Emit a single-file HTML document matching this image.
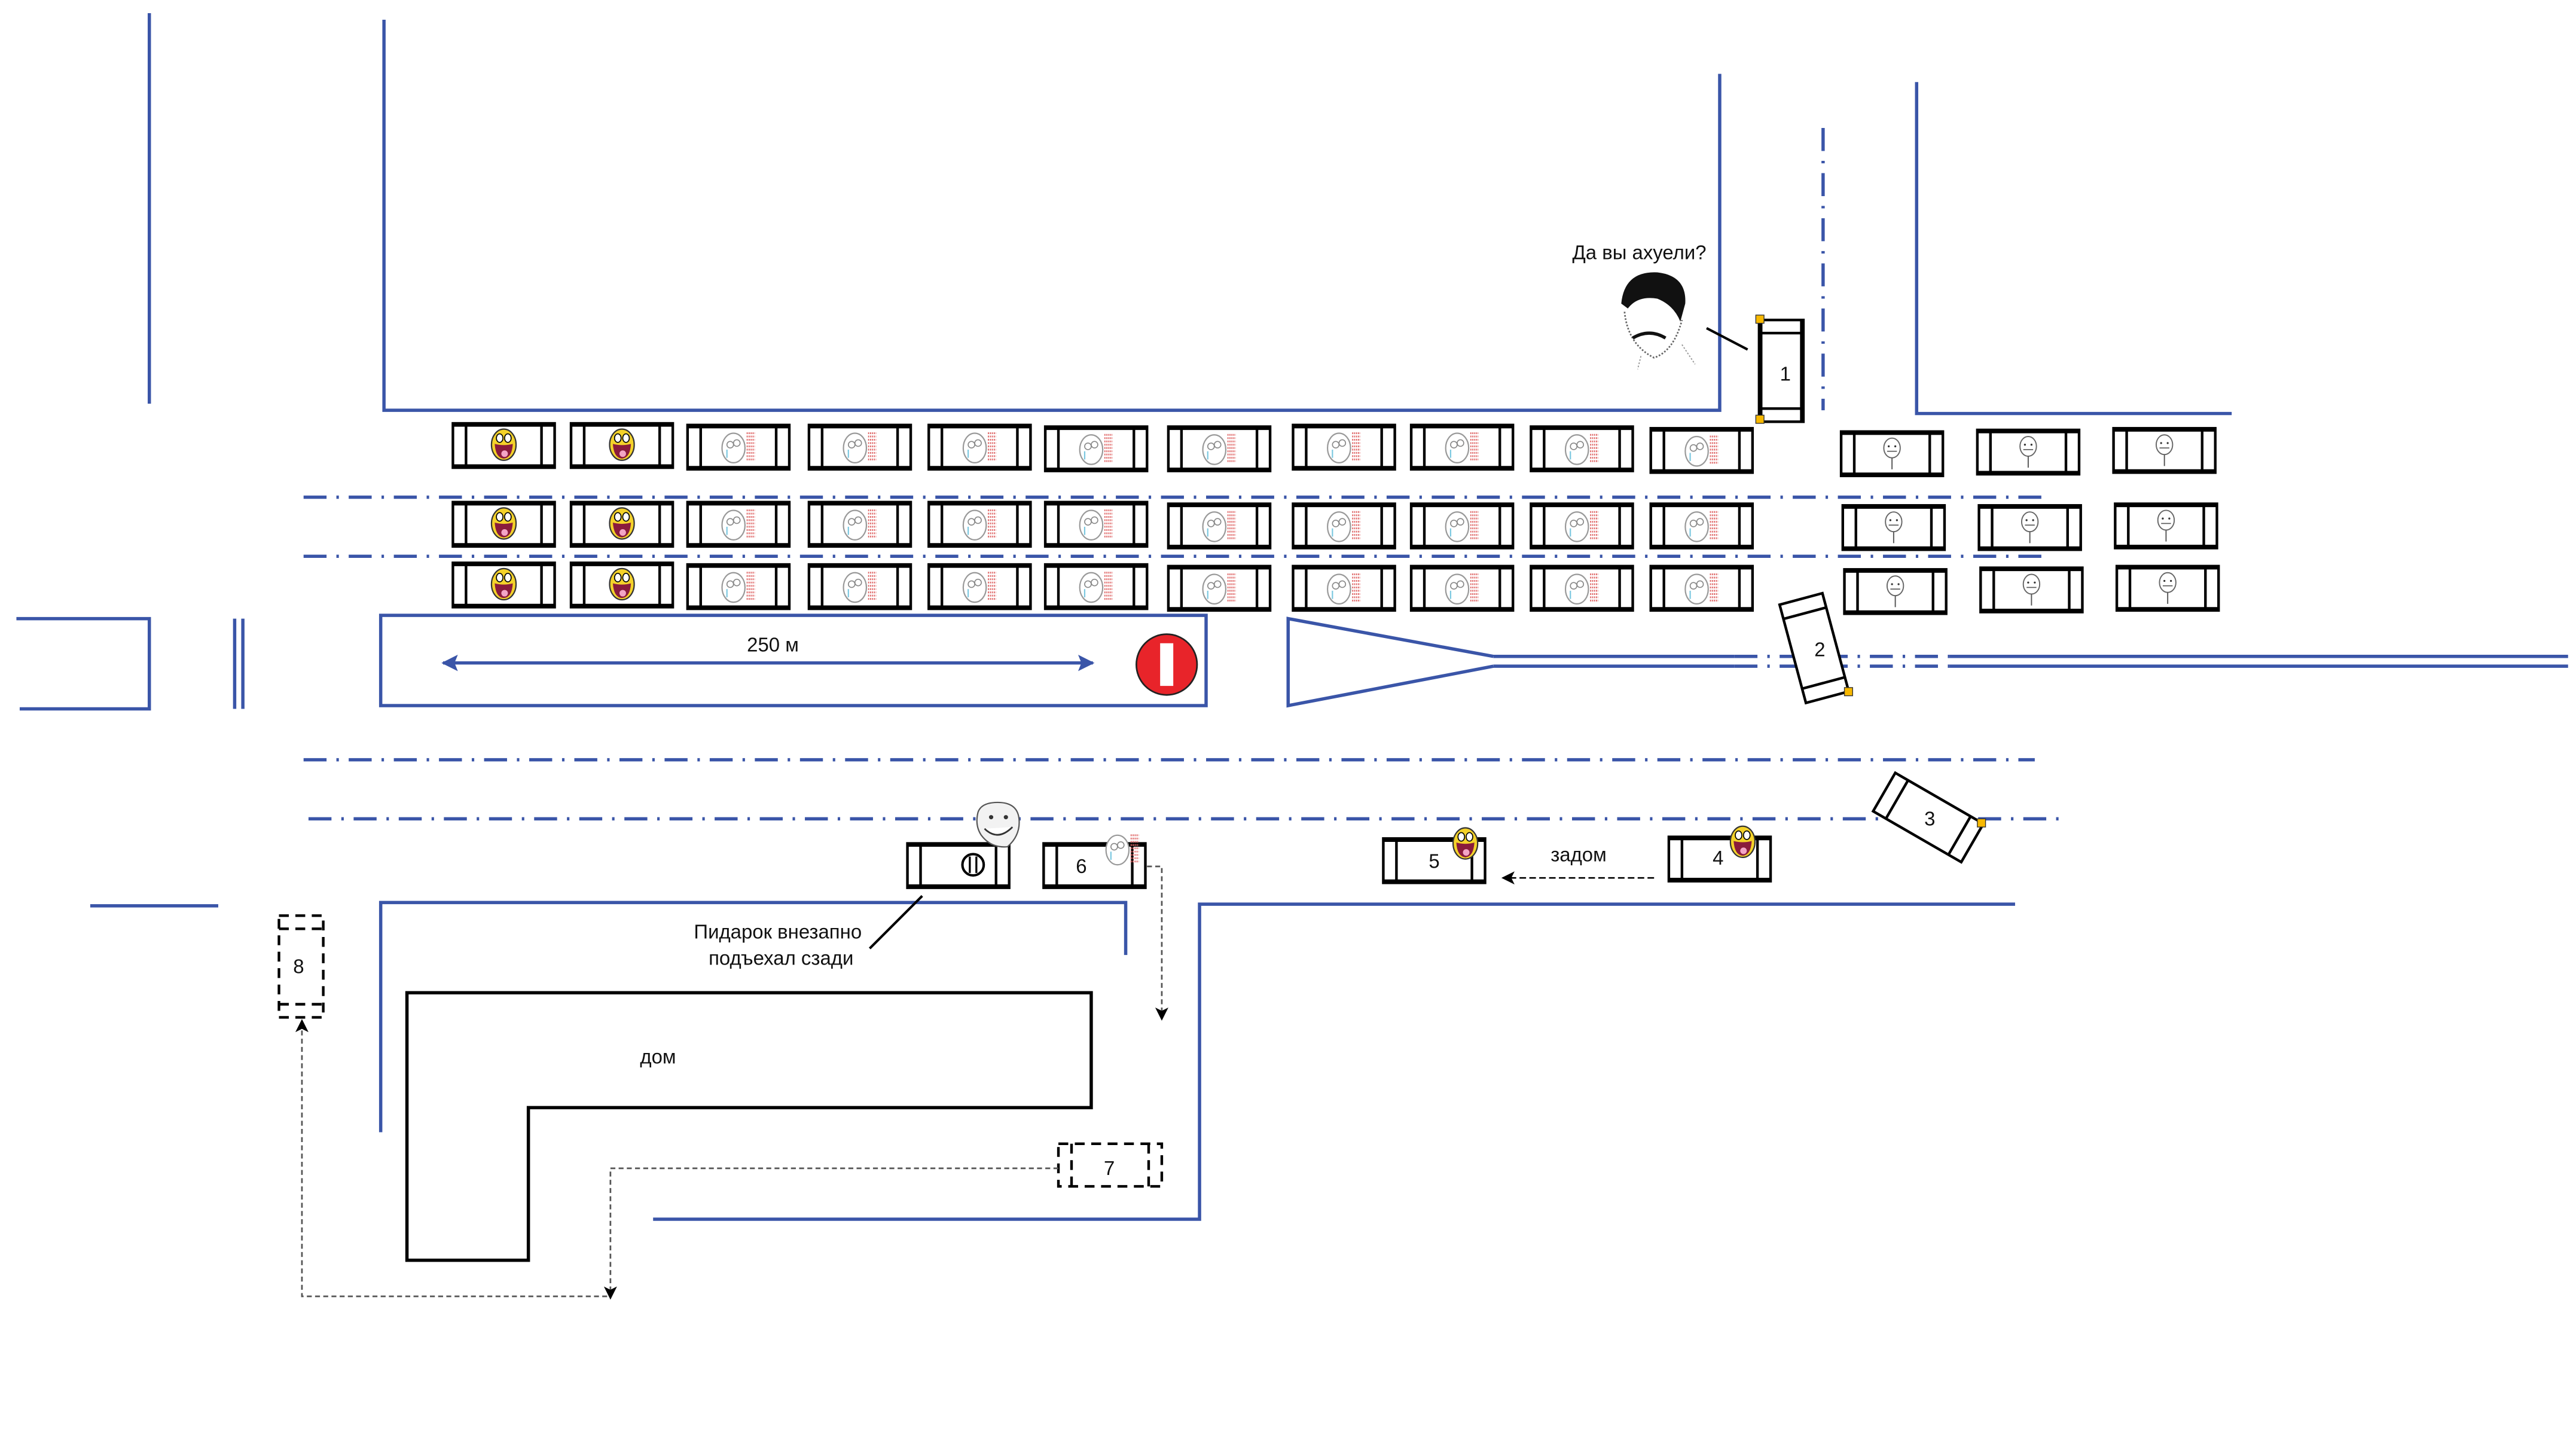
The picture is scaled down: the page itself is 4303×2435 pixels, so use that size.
<!DOCTYPE html>
<html><head><meta charset="utf-8"><style>
html,body{margin:0;padding:0;background:#fff;}
svg{display:block;}
text{font-family:"Liberation Sans",sans-serif;fill:#111;}
</style></head><body>
<svg width="4303" height="2435" viewBox="0 0 1568 887.3" xmlns="http://www.w3.org/2000/svg">
<defs>
<g id="car">
<rect x="0" y="0" width="62" height="27" fill="#fff" stroke="#000" stroke-width="1.6"/>
<line x1="0" y1="0.8" x2="62" y2="0.8" stroke="#000" stroke-width="2.5"/>
<line x1="0" y1="26.2" x2="62" y2="26.2" stroke="#000" stroke-width="2.5"/>
<line x1="8" y1="0" x2="8" y2="27" stroke="#000" stroke-width="1.6"/>
<line x1="54" y1="0" x2="54" y2="27" stroke="#000" stroke-width="1.6"/>
</g>
<g id="aw">
<ellipse cx="0" cy="0" rx="7.5" ry="9.5" fill="#f4d22a" stroke="#333" stroke-width="0.8"/>
<ellipse cx="-2.5" cy="-4" rx="2" ry="2.6" fill="#fff" stroke="#000" stroke-width="0.6"/>
<ellipse cx="2.5" cy="-4" rx="2" ry="2.6" fill="#fff" stroke="#000" stroke-width="0.6"/>
<path d="M-5.5,-0.5 Q0,1 5.5,-0.5 Q5,8 0,8.5 Q-5,8 -5.5,-0.5Z" fill="#8a1b3c"/>
<ellipse cx="0.5" cy="5.5" rx="2" ry="2" fill="#f3a5c5"/>
</g>
<g id="rage">
<ellipse cx="-3" cy="1" rx="7" ry="9" fill="#fff" stroke="#999" stroke-width="0.8"/>
<circle cx="-5" cy="-1" r="2" fill="none" stroke="#888" stroke-width="0.6"/>
<circle cx="-1" cy="-2" r="2" fill="none" stroke="#888" stroke-width="0.6"/>
<path d="M-7,2 L-7,7" stroke="#7cc8e0" stroke-width="0.8"/>
<g stroke="#e06b6b" stroke-width="1.1" stroke-dasharray="0.7 0.5">
<line x1="5" y1="-8" x2="10" y2="-8"/><line x1="5" y1="-6" x2="10" y2="-6"/><line x1="5" y1="-4" x2="10" y2="-4"/>
<line x1="5" y1="-2" x2="10" y2="-2"/><line x1="5" y1="0" x2="10" y2="0"/><line x1="5" y1="2" x2="10" y2="2"/>
<line x1="5" y1="4" x2="10" y2="4"/><line x1="5" y1="6" x2="10" y2="6"/><line x1="5" y1="8" x2="10" y2="8"/>
</g>
</g>
<g id="poker">
<ellipse cx="0" cy="-3" rx="5" ry="6" fill="#fff" stroke="#666" stroke-width="0.7"/>
<circle cx="-2" cy="-4" r="0.6" fill="#333"/><circle cx="2" cy="-4" r="0.6" fill="#333"/>
<line x1="-3" y1="-1" x2="3" y2="-1" stroke="#555" stroke-width="0.6"/>
<line x1="0" y1="3" x2="0" y2="10" stroke="#555" stroke-width="0.7"/>
</g>
<g id="acar"><use href="#car"/><use href="#aw" x="31" y="13"/></g>
<g id="rcar"><use href="#car"/><use href="#rage" x="31" y="13"/></g>
<g id="pcar"><use href="#car"/><use href="#poker" x="31" y="13"/></g>
<marker id="ah" markerWidth="8" markerHeight="8" refX="7" refY="4" orient="auto" markerUnits="userSpaceOnUse"><path d="M0,0 L8,4 L0,8 L2,4Z" fill="#000"/></marker>
<marker id="bh" markerWidth="10" markerHeight="10" refX="9" refY="5" orient="auto" markerUnits="userSpaceOnUse"><path d="M0,0 L10,5 L0,10 L2,5Z" fill="#3a55a8"/></marker>
<marker id="bt" markerWidth="10" markerHeight="10" refX="1" refY="5" orient="auto" markerUnits="userSpaceOnUse"><path d="M10,0 L0,5 L10,10 L8,5Z" fill="#3a55a8"/></marker>
</defs>

<g stroke="#3a55a8" stroke-width="2" fill="none">
<line x1="91" y1="8" x2="91" y2="246"/>
<polyline points="234,12 234,250 1048,250 1048,45"/>
<polyline points="1168,50 1168,252 1360,252"/>
<polyline points="10,377 91,377 91,432 12,432"/>
<line x1="143" y1="377" x2="143" y2="432"/><line x1="148" y1="377" x2="148" y2="432"/>
<rect x="232" y="375" width="503" height="55"/>
<line x1="270" y1="404" x2="666" y2="404" marker-end="url(#bh)" marker-start="url(#bt)"/>
<polyline points="910,400 785,377 785,430 910,406"/>
<line x1="910" y1="400" x2="1057" y2="400"/><line x1="910" y1="406" x2="1057" y2="406"/>
<line x1="1188" y1="400" x2="1565" y2="400"/><line x1="1188" y1="406" x2="1565" y2="406"/>
<line x1="55" y1="552" x2="133" y2="552"/>
<polyline points="232,690 232,550 686,550 686,582"/>
<polyline points="398,743 731,743 731,551 1228,551"/>
</g>
<g stroke="#3a55a8" stroke-width="2" fill="none" stroke-dasharray="14 6 1.5 6">
<line x1="1111" y1="78" x2="1111" y2="250"/>
<line x1="185" y1="303" x2="1245" y2="303"/>
<line x1="185" y1="339" x2="1245" y2="339"/>
<line x1="1057" y1="400" x2="1188" y2="400"/><line x1="1057" y1="406" x2="1188" y2="406"/>
<line x1="185" y1="463" x2="1240" y2="463"/>
<line x1="188" y1="499" x2="1255" y2="499"/>
</g>

<text x="471" y="397" font-size="12" text-anchor="middle">250 м</text>
<circle cx="711" cy="405" r="18.5" fill="#e8242a" stroke="#222" stroke-width="1"/>
<rect x="707" y="392" width="8" height="26" fill="#fff"/>

<!-- rows -->
<use href="#acar" x="276" y="258"/><use href="#acar" x="348" y="258"/>
<use href="#rcar" x="419" y="259"/><use href="#rcar" x="493" y="259"/><use href="#rcar" x="566" y="259"/><use href="#rcar" x="637" y="260"/><use href="#rcar" x="712" y="260"/><use href="#rcar" x="788" y="259"/><use href="#rcar" x="860" y="259"/><use href="#rcar" x="933" y="260"/><use href="#rcar" x="1006" y="261"/>
<use href="#acar" x="276" y="306"/><use href="#acar" x="348" y="306"/>
<use href="#rcar" x="419" y="306"/><use href="#rcar" x="493" y="306"/><use href="#rcar" x="566" y="306"/><use href="#rcar" x="637" y="306"/><use href="#rcar" x="712" y="307"/><use href="#rcar" x="788" y="307"/><use href="#rcar" x="860" y="307"/><use href="#rcar" x="933" y="307"/><use href="#rcar" x="1006" y="307"/>
<use href="#acar" x="276" y="343"/><use href="#acar" x="348" y="343"/>
<use href="#rcar" x="419" y="344"/><use href="#rcar" x="493" y="344"/><use href="#rcar" x="566" y="344"/><use href="#rcar" x="637" y="344"/><use href="#rcar" x="712" y="345"/><use href="#rcar" x="788" y="345"/><use href="#rcar" x="860" y="345"/><use href="#rcar" x="933" y="345"/><use href="#rcar" x="1006" y="345"/>
<use href="#pcar" x="1122" y="263"/><use href="#pcar" x="1205" y="262"/><use href="#pcar" x="1288" y="261"/>
<use href="#pcar" x="1123" y="308"/><use href="#pcar" x="1206" y="308"/><use href="#pcar" x="1289" y="307"/>
<use href="#pcar" x="1124" y="347"/><use href="#pcar" x="1207" y="346"/><use href="#pcar" x="1290" y="345"/>

<!-- car 1 -->
<g transform="translate(1099,195) rotate(90)"><use href="#car"/></g>
<rect x="1070" y="192" width="5" height="5" fill="#f7b800" stroke="#333" stroke-width="0.5"/>
<rect x="1070" y="253" width="5" height="5" fill="#f7b800" stroke="#333" stroke-width="0.5"/>
<text x="1088" y="232" font-size="12" text-anchor="middle">1</text>
<text x="999" y="158" font-size="12" text-anchor="middle">Да вы ахуели?</text>
<line x1="1040" y1="200" x2="1065" y2="213" stroke="#000" stroke-width="1.5"/>
<g>
<path d="M988,185 Q990,165 1010,166 Q1028,168 1027,185 L1024,196 Q1020,186 1010,182 Q998,180 992,188Z" fill="#111"/>
<path d="M990,190 Q992,210 1008,218 Q1020,214 1025,195" fill="none" stroke="#666" stroke-width="1" stroke-dasharray="1 1"/>
<path d="M995,206 Q1005,200 1015,206" fill="none" stroke="#111" stroke-width="2"/>
<path d="M1000,217 L998,225 M1025,210 L1033,222" stroke="#999" stroke-width="0.7" stroke-dasharray="1 1"/>
</g>

<!-- car 2 -->
<g transform="translate(1084.5,368.5) rotate(-15)">
<rect x="0" y="0" width="27" height="62" fill="#fff" stroke="#000" stroke-width="1.6"/>
<line x1="0" y1="9" x2="27" y2="9" stroke="#000" stroke-width="1.6"/>
<line x1="0" y1="53" x2="27" y2="53" stroke="#000" stroke-width="1.6"/>
</g>
<rect x="1124" y="419" width="5" height="5" fill="#f7b800" stroke="#333" stroke-width="0.5"/>
<text x="1109" y="400" font-size="12" text-anchor="middle">2</text>
<!-- car 3 -->
<g transform="translate(1155,471) rotate(30)">
<rect x="0" y="0" width="62" height="27" fill="#fff" stroke="#000" stroke-width="1.6"/>
<line x1="9" y1="0" x2="9" y2="27" stroke="#000" stroke-width="1.6"/>
<line x1="53" y1="0" x2="53" y2="27" stroke="#000" stroke-width="1.6"/>
</g>
<rect x="1205" y="499" width="5" height="5" fill="#f7b800" stroke="#333" stroke-width="0.5"/>
<text x="1176" y="503" font-size="12" text-anchor="middle">3</text>

<!-- bottom cars -->
<use href="#car" x="553" y="514"/>
<circle cx="593" cy="527" r="6.5" fill="#fff" stroke="#000" stroke-width="1.5"/>
<line x1="591" y1="522" x2="591" y2="532" stroke="#000" stroke-width="1.2"/><line x1="595" y1="522" x2="595" y2="532" stroke="#000" stroke-width="1.2"/>
<g transform="translate(608,503)">
<path d="M-12,-8 Q-10,-14 0,-14 Q12,-14 13,-4 Q14,6 6,13 Q-4,14 -10,6 Q-14,0 -12,-8Z" fill="#f2f2f2" stroke="#555" stroke-width="0.8"/>
<path d="M-8,2 Q0,10 9,1" fill="#fff" stroke="#333" stroke-width="1"/>
<circle cx="-4" cy="-5" r="1.3" fill="#333"/><circle cx="5" cy="-5" r="1.3" fill="#333"/>
</g>
<use href="#car" x="636" y="514"/>
<use href="#rage" x="684" y="517"/>
<text x="659" y="532" font-size="12" text-anchor="middle">6</text>
<use href="#car" x="843" y="511"/>
<use href="#aw" x="893" y="514"/>
<text x="874" y="529" font-size="12" text-anchor="middle">5</text>
<use href="#car" x="1017" y="510"/>
<use href="#aw" x="1062" y="513"/>
<text x="1047" y="527" font-size="12" text-anchor="middle">4</text>
<line x1="1008" y1="535" x2="916" y2="535" stroke="#000" stroke-width="1" stroke-dasharray="4 2" marker-end="url(#ah)"/>
<text x="962" y="525" font-size="12" text-anchor="middle">задом</text>

<text x="474" y="572" font-size="12" text-anchor="middle">Пидарок внезапно</text>
<text x="476" y="588" font-size="12" text-anchor="middle">подъехал сзади</text>
<line x1="530" y1="578" x2="562" y2="546" stroke="#000" stroke-width="1.5"/>

<polygon points="248,605 665,605 665,675 322,675 322,768 248,768" fill="none" stroke="#000" stroke-width="2"/>
<text x="401" y="648" font-size="12" text-anchor="middle">дом</text>

<!-- ghost cars -->
<g stroke="#000" stroke-width="1.6" fill="none" stroke-dasharray="6 4">
<rect x="170" y="558" width="27" height="62"/>
<line x1="170" y1="566" x2="197" y2="566"/><line x1="170" y1="612" x2="197" y2="612"/>
<rect x="645" y="697" width="63" height="26"/>
<line x1="653" y1="697" x2="653" y2="723"/><line x1="700" y1="697" x2="700" y2="723"/>
</g>
<text x="182" y="593" font-size="12" text-anchor="middle">8</text>
<text x="676" y="716" font-size="12" text-anchor="middle">7</text>

<g stroke="#555" stroke-width="1" fill="none" stroke-dasharray="3 2">
<polyline points="370,790 184,790 184,622" marker-end="url(#ah)"/>
<polyline points="645,712 372,712 372,791" marker-end="url(#ah)"/>
<polyline points="699,528 708,528 708,621" marker-end="url(#ah)"/>
</g>
</svg>
</body></html>
